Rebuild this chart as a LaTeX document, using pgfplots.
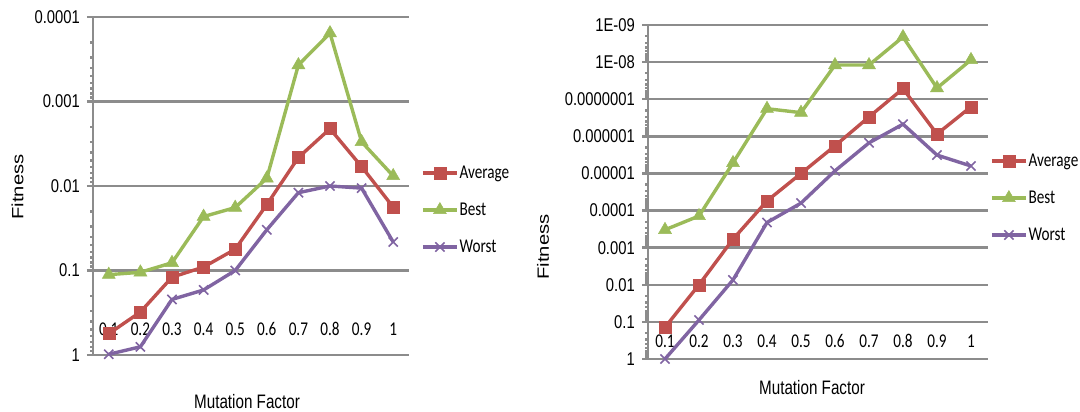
\documentclass[border=0pt]{standalone}
\usepackage{pgfplots}
\pgfplotsset{compat=1.18}
\usepackage{fontspec}
\setmainfont{Liberation Sans}
\newfontfamily\tickfont[FakeStretch=0.8]{Liberation Sans}
\newfontfamily\calfont[FakeStretch=0.78]{Carlito}
\newfontfamily\labfont[FakeStretch=0.78]{Liberation Sans}
\newfontfamily\fitfont[FakeStretch=1.24]{Liberation Sans}
\definecolor{cavg}{HTML}{C0504D}
\definecolor{cbest}{HTML}{9BBB59}
\definecolor{cworst}{HTML}{8064A2}
\definecolor{gridc}{RGB}{140,140,140}
\tikzset{
  avg/.style={cavg, line width=3.4pt, mark=square*, mark size=6pt, mark options={solid, line width=0.5pt}},
  best/.style={cbest, line width=3.4pt, mark=triangle*, mark size=7.5pt, mark options={solid, line width=0.5pt}},
  worst/.style={cworst, line width=3.4pt, mark=x, mark size=6.5pt, mark options={solid, line width=1.6pt}},
}
\pgfplotsset{
  mystyle/.style={
    scale only axis, anchor=south west,
    xmin=0.5, xmax=10.5,
    axis line style={draw=none},
    xtick={1,...,10},
    xticklabels={0.1,0.2,0.3,0.4,0.5,0.6,0.7,0.8,0.9,1},
    xtick style={draw=none},
    ytick pos=left, tick align=outside, major tick length=6pt,
    ytick style={gridc, line width=2.4pt},
    ymajorgrids,
    grid style={gridc, line width=2.4pt},
    yticklabel style={font=\tickfont\fontsize{18.5}{20}\selectfont, inner sep=0pt, xshift=-7pt},
    legend style={draw=none, fill=none, anchor=west, row sep=21pt,
      font=\calfont\fontsize{19.5}{20}\selectfont, nodes={inner sep=1pt}},
    legend cell align=left,
    legend image code/.code={\draw[mark repeat=2,mark phase=2,##1] plot coordinates {(0pt,0pt) (17pt,0pt) (34pt,0pt)};},
    clip=false,
  },
}
\begin{document}
\begin{tikzpicture}
\path[use as bounding box] (0,0) rectangle (1080pt,412pt);
% legend anchors, given relative to each axis origin
\coordinate (legL) at (325pt,145pt);
\coordinate (legR) at (339pt,161pt);
% Left chart
\begin{axis}[mystyle, ymode=log, y dir=reverse, at={(93pt,57pt)}, width=316pt, height=338pt,
  ymin=1e-4, ymax=1,
  ytick={1e-4,1e-3,1e-2,1e-1,1}, minor ytick={},
  yticklabels={0.0001,0.001,0.01,0.1,1},
  xticklabel style={font=\calfont\fontsize{19.5}{20}\selectfont, anchor=center, yshift=32pt},
  legend style={at={(legL)}}]
\addplot[avg] coordinates {(1,0.56) (2,0.31) (3,0.12) (4,0.091) (5,0.056) (6,0.0166) (7,0.0046) (8,0.0021) (9,0.0059) (10,0.0178)};
\addlegendentry{Average}
\addplot[best] coordinates {(1,0.112) (2,0.105) (3,0.081) (4,0.023) (5,0.018) (6,0.0081) (7,0.00037) (8,0.000155) (9,0.003) (10,0.0076)};
\addlegendentry{Best}
\addplot[worst] coordinates {(1,0.98) (2,0.8) (3,0.22) (4,0.17) (5,0.1) (6,0.033) (7,0.012) (8,0.01) (9,0.0106) (10,0.046)};
\addlegendentry{Worst}
\draw[gridc, line width=2.4pt] (rel axis cs:0,0) -- (rel axis cs:0,1);
\end{axis}
% Right chart
\begin{axis}[mystyle, ymode=log, y dir=reverse, at={(648pt,53pt)}, width=340pt, height=334pt,
  ymin=1e-9, ymax=1,
  ytick={1e-9,1e-8,1e-7,1e-6,1e-5,1e-4,1e-3,1e-2,1e-1,1}, minor ytick={},
  yticklabels={1E-09,1E-08,0.0000001,0.000001,0.00001,0.0001,0.001,0.01,0.1,1},
  xticklabel style={font=\calfont\fontsize{19.5}{20}\selectfont, anchor=center, yshift=24pt},
  legend style={at={(legR)}}]
\addplot[avg] coordinates {(1,0.14) (2,0.01) (3,5.9e-4) (4,5.5e-5) (5,1.0e-5) (6,1.8e-6) (7,3.0e-7) (8,5.2e-8) (9,8.7e-7) (10,1.6e-7)};
\addlegendentry{Average}
\addplot[best] coordinates {(1,3.3e-4) (2,1.4e-4) (3,5.2e-6) (4,1.8e-7) (5,2.3e-7) (6,1.2e-8) (7,1.2e-8) (8,2.1e-9) (9,5e-8) (10,8.7e-9)};
\addlegendentry{Best}
\addplot[worst] coordinates {(1,1) (2,0.089) (3,7.4e-3) (4,2.1e-4) (5,6.3e-5) (6,8.5e-6) (7,1.5e-6) (8,4.7e-7) (9,3.2e-6) (10,6.3e-6)};
\addlegendentry{Worst}
\draw[gridc, line width=2.4pt] (rel axis cs:0,0) -- (rel axis cs:0,1);
\end{axis}
\node[rotate=90, font=\fitfont\fontsize{16.3}{18}\selectfont] at (17.5pt,225pt) {Fitness};
\node[rotate=90, font=\fitfont\fontsize{16.3}{18}\selectfont] at (543pt,165pt) {Fitness};
\node[font=\labfont\fontsize{19.5}{20}\selectfont] at (247pt,10pt) {Mutation Factor};
\node[font=\labfont\fontsize{19.5}{20}\selectfont] at (812pt,24pt) {Mutation Factor};
\end{tikzpicture}
\end{document}
